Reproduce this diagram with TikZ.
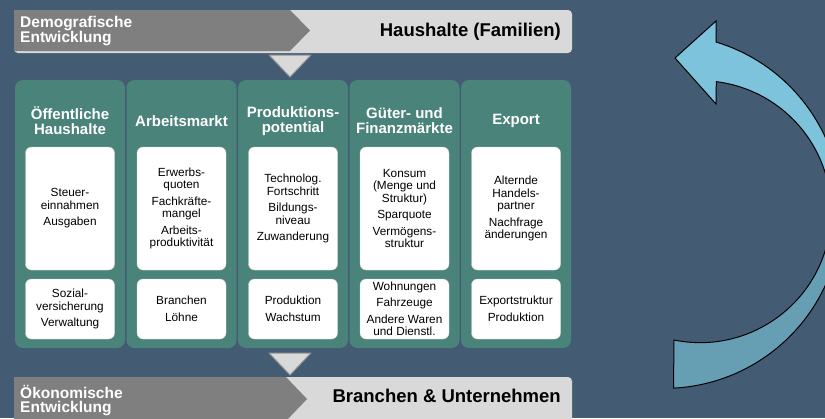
\documentclass[tikz,border=0pt]{standalone}
\usepackage{fontspec}
\setmainfont{Liberation Sans}
\usepackage{tikz}

\definecolor{bgslate}{HTML}{435C73}
\definecolor{bardark}{HTML}{7F7F7F}
\definecolor{barlight}{HTML}{D9D9D9}
\definecolor{colteal}{HTML}{4A8379}
\definecolor{arrowlight}{HTML}{7EC3DC}
\definecolor{arrowdark}{HTML}{669EB4}

\newcommand{\returnarrow}{(675,58) -- (716,21) -- (716,42)
  arc[start angle=-73.1, end angle=87.1, radius=177] -- (674,340)
  arc[start angle=101.5, end angle=-82.9, radius=131] -- (716,104) -- cycle}

\begin{document}
\begin{tikzpicture}[x=1pt, y=-1pt]
\tikzset{colbox/.style={fill=colteal, rounded corners=8pt, minimum width=110pt, minimum height=268pt, inner sep=0pt}}
\tikzset{coltitle/.style={text=white, font=\bfseries\fontsize{15}{15}\selectfont, align=center}}
\tikzset{upperbox/.style={fill=white, draw=gray!35, rounded corners=6pt, minimum width=89pt, minimum height=123pt,
  inner sep=0pt, align=center, font=\fontsize{11.8}{12.5}\selectfont}}
\tikzset{lowerbox/.style={upperbox, minimum height=60pt}}
\tikzset{barlabel/.style={text=white, font=\bfseries\fontsize{15.5}{14}\selectfont, align=left, anchor=west, inner sep=0pt}}
\tikzset{bartitle/.style={text=black, font=\bfseries\fontsize{18.5}{18.5}\selectfont, anchor=east, inner sep=0pt}}
\tikzset{flowtri/.style={fill=barlight, draw=gray!85, line width=1pt, line join=round}}
%\tikzset{every node/.style={draw=red}}
\useasboundingbox (0,0) rectangle (825,418);
\fill[bgslate] (0,0) rectangle (825,418);

% bars top and bottom
\fill[barlight, rounded corners=4pt] (14,10) rectangle (572,53);
\fill[bardark] (14,10) -- (290,10) -- (310,30.5) -- (290,51) -- (14,51) -- cycle;
\fill[barlight, rounded corners=4pt] (14,377) rectangle (572,430);
\fill[bardark] (14,377) -- (286,377) -- (307,399) -- (286,421) -- (14,421) -- cycle;
\node[barlabel] (demo) at (20,31) {Demografische\\Entwicklung};
\node[bartitle] (haushalte) at (561,32) {Haushalte (Familien)};
\node[barlabel] (oeko) at (20,401) {Ökonomische\\Entwicklung};
\node[bartitle] (branchen) at (561,396) {Branchen \& Unternehmen};
\draw[flowtri] (269,55) -- (311,55) -- (290,77) -- cycle;
\draw[flowtri] (269,353) -- (311,353) -- (290,375) -- cycle;

% columns
\foreach \i in {1,...,5}
  \node[colbox] (col\i) at ({70+111.5*(\i-1)},214) {};
\coordinate (titleline) at (0,121);
\coordinate (upperline) at (0,208.5);
\coordinate (lowerline) at (0,309);

\node[coltitle] (title1) at (col1 |- titleline) {Öffentliche\\Haushalte};
\node[coltitle] (title2) at (col2 |- titleline) {Arbeitsmarkt};
\node[coltitle] (title3) at (col3 |- titleline) {Produktions-\\potential};
\node[coltitle] (title4) at (col4 |- titleline) {Güter- und\\Finanzmärkte};
\node[coltitle] (title5) at (col5 |- titleline) {Export};

\node[upperbox] (upper1) at (col1 |- upperline) {Steuer-\\einnahmen\\[4pt]Ausgaben};
\node[upperbox] (upper2) at (col2 |- upperline) {Erwerbs-\\quoten\\[4pt]Fachkräfte-\\mangel\\[4pt]Arbeits-\\produktivität};
\node[upperbox] (upper3) at (col3 |- upperline) {Technolog.\\Fortschritt\\[4pt]Bildungs-\\niveau\\[4pt]Zuwanderung};
\node[upperbox] (upper4) at (col4 |- upperline) {Konsum\\(Menge und\\Struktur)\\[4pt]Sparquote\\[4pt]Vermögens-\\struktur};
\node[upperbox] (upper5) at (col5 |- upperline) {Alternde\\Handels-\\partner\\[4pt]Nachfrage\\änderungen};

\node[lowerbox] (lower1) at (col1 |- lowerline) {Sozial-\\versicherung\\[4pt]Verwaltung};
\node[lowerbox] (lower2) at (col2 |- lowerline) {Branchen\\[4pt]Löhne};
\node[lowerbox] (lower3) at (col3 |- lowerline) {Produktion\\[4pt]Wachstum};
\node[lowerbox] (lower4) at (col4 |- lowerline) {Wohnungen\\[4pt]Fahrzeuge\\[4pt]Andere Waren\\und Dienstl.};
\node[lowerbox] (lower5) at (col5 |- lowerline) {Exportstruktur\\[4pt]Produktion};

% feedback arrow
\fill[arrowlight] \returnarrow;
\begin{scope}
  \clip (600,240) rectangle (825,418);
  \fill[arrowdark] \returnarrow;
\end{scope}
\draw[black, line width=1pt, line join=miter] \returnarrow;
\end{tikzpicture}
\end{document}
